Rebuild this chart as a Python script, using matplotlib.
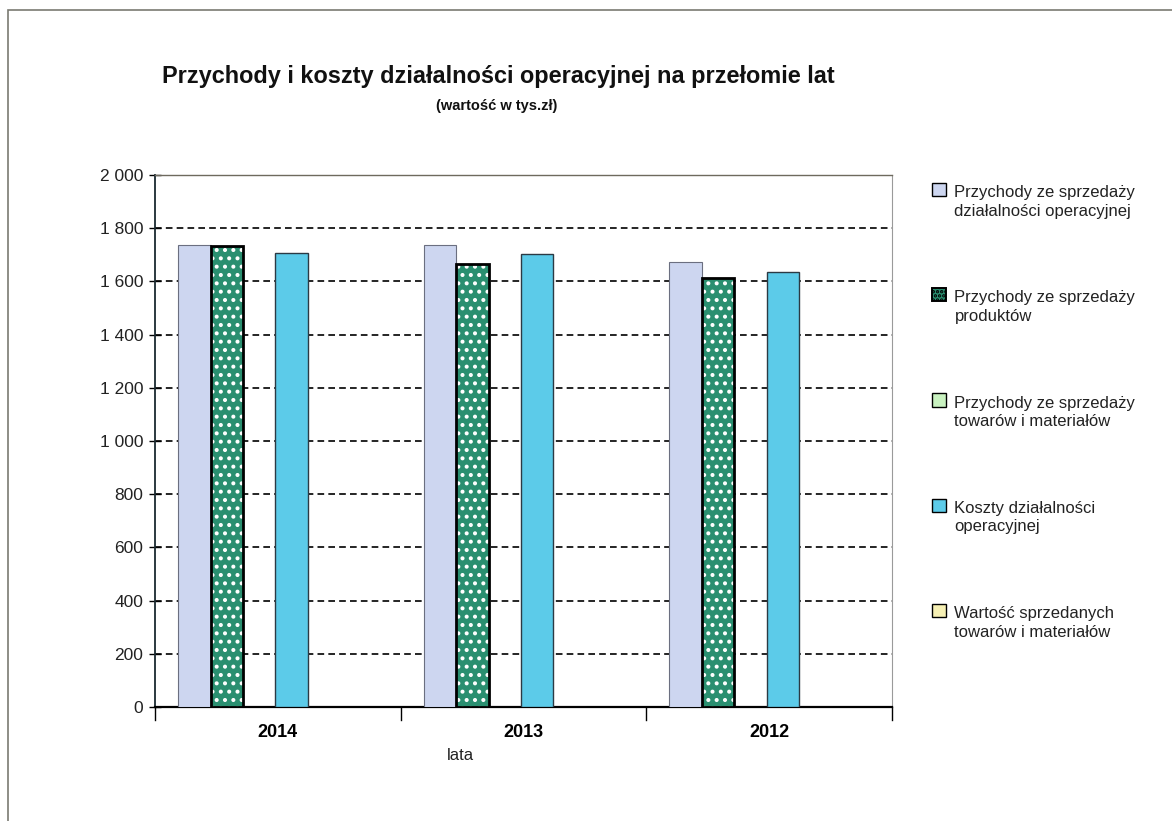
import matplotlib.pyplot as plt
from matplotlib.patches import Patch, Rectangle
from matplotlib.ticker import FuncFormatter, FixedLocator
import numpy as np

plt.rcParams['font.family'] = ['Liberation Sans', 'DejaVu Sans']
plt.rcParams['hatch.linewidth'] = 1.7

# data (tys. zł)
lata = ['2014', '2013', '2012']
przychody_operacyjne = [1737, 1737, 1673]
przychody_produkty = [1733, 1665, 1612]
przychody_towary = [0, 0, 0]
koszty_operacyjne = [1707, 1703, 1635]
wartosc_towarow = [0, 0, 0]

serie = [
    ('Przychody ze sprzedaży\ndziałalności operacyjnej', przychody_operacyjne),
    ('Przychody ze sprzedaży\nproduktów', przychody_produkty),
    ('Przychody ze sprzedaży\ntowarów i materiałów', przychody_towary),
    ('Koszty działalności\noperacyjnej', koszty_operacyjne),
    ('Wartość sprzedanych\ntowarów i materiałów', wartosc_towarow),
]
kolory = ['#cdd6f0', '#2a8f70', '#c9f2c0', '#5ccbe9', '#f6f0b4']
krawedzie = ['#6b6f80', '#000000', '#333333', '#2b3a44', '#333333']
grubosci = [0.8, 2.0, 0.8, 1.0, 0.8]

fig = plt.figure(figsize=(11.72, 8.21), dpi=100)
W, H = 1172, 821
ax = fig.add_axes([155 / W, 1 - 707 / H, (892 - 155) / W, (707 - 175) / H])

x = np.arange(len(lata))
szer = 0.132
start = -0.406
for i, (nazwa, wart) in enumerate(serie):
    pos = x + start + i * szer
    b = ax.bar(pos, wart, width=szer, align='edge', color=kolory[i],
               edgecolor=krawedzie[i], linewidth=grubosci[i], zorder=3)
    if i == 1:
        for p in b:
            p.set_hatch('..')
            p._hatch_color = (1, 1, 1, 1)

ax.set_xlim(-0.5, 2.5)
ax.set_ylim(0, 2000)
ax.yaxis.set_major_locator(FixedLocator(np.arange(0, 2001, 200)))
ax.yaxis.set_major_formatter(FuncFormatter(lambda v, p: f'{int(v):,}'.replace(',', ' ')))
ax.tick_params(axis='y', direction='inout', length=9, width=1, labelsize=12.5,
               pad=4, labelcolor='#222222')
for y in range(200, 2000, 200):
    ax.axhline(y, color='black', linestyle=(0, (4, 2.5)), linewidth=1.2, zorder=1)

ax.set_xticks(x)
ax.set_xticklabels(lata, fontsize=13, fontweight='bold')
ax.tick_params(axis='x', length=0, pad=12)
for xb in [-0.5, 0.5, 1.5, 2.5]:
    ax.plot([xb, xb], [0, -0.025], transform=ax.get_xaxis_transform(),
            color='black', linewidth=1, clip_on=False)

ax.spines['left'].set_color('#1a2a30')
ax.spines['left'].set_linewidth(1.3)
ax.spines['bottom'].set_color('black')
ax.spines['bottom'].set_linewidth(1.6)
ax.spines['top'].set_color('#6e6a5e')
ax.spines['top'].set_linewidth(1.0)
ax.spines['right'].set_color('#9a9a9a')
ax.spines['right'].set_linewidth(0.8)

fig.text(460 / W, 1 - 755 / H, 'lata', fontsize=12, ha='center', va='center',
         color='#222222')
fig.text(498 / W, 1 - 77 / H, 'Przychody i koszty działalności operacyjnej na przełomie lat',
         fontsize=16.9, fontweight='bold', ha='center', va='center', color='#111111')
fig.text(497 / W, 1 - 106 / H, '(wartość w tys.zł)', fontsize=10.5, fontweight='bold',
         ha='center', va='center', color='#111111')

# legend
uchwyty = []
for i in range(len(serie)):
    h = Patch(facecolor=kolory[i], edgecolor='black', linewidth=1.0)
    if i == 1:
        h = Patch(facecolor='#2a8f70', edgecolor='black', linewidth=1.4, hatch='....')
    uchwyty.append(h)
leg = fig.legend(uchwyty, [s[0] for s in serie], loc='upper left',
                 bbox_to_anchor=(917 / W, 1 - 170 / H), frameon=False,
                 fontsize=12, handlelength=0.85, handleheight=0.85,
                 handletextpad=0.5, labelspacing=4.3)
for t in leg.get_texts():
    t.set_linespacing(1.3)
    t.set_color('#222222')
for h in leg.legend_handles:
    h.set_y(h.get_y() + 9)

# outer frame of the chart
fig.add_artist(Rectangle((8 / W, -0.05), 1.2, 1 - 10 / H + 0.05, transform=fig.transFigure,
                         fill=False, edgecolor='#7a7a72', linewidth=1.2))

fig.savefig('out.png', dpi=100)
